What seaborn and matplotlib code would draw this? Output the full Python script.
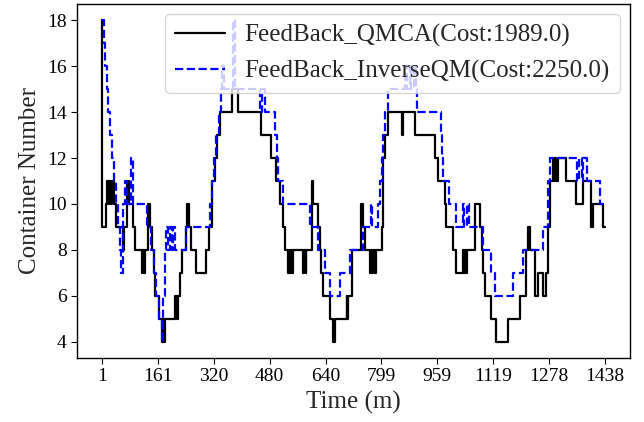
import numpy as np
import pandas as pd
import matplotlib
matplotlib.use("Agg")
import matplotlib.pyplot as plt
import seaborn as sns

# step change points (time, container number), drawn with steps-post
qmca_steps = [
    (1, 18), (2, 9), (12, 10), (15, 11), (20, 10), (22, 11), (27, 10), (29, 11),
    (34, 10), (40, 9), (60, 8), (63, 9), (71, 11), (78, 10), (90, 9), (95, 8),
    (116, 7), (118, 8), (120, 7), (123, 8), (133, 10), (139, 9), (144, 8),
    (150, 7), (153, 6), (163, 5), (171, 4), (175, 5), (177, 4), (180, 5),
    (209, 6), (214, 5), (217, 6), (223, 7), (228, 8), (240, 9), (244, 10),
    (250, 9), (256, 8), (269, 7), (297, 8), (307, 9), (314, 11), (323, 12),
    (328, 13), (338, 14), (371, 15), (390, 14), (456, 13), (485, 12),
    (499, 11), (509, 10), (518, 9), (523, 8), (533, 7), (535, 8), (538, 7),
    (541, 8), (544, 7), (547, 8), (576, 7), (578, 8), (583, 7), (585, 8),
    (600, 11), (604, 10), (618, 9), (624, 8), (628, 7), (633, 6), (652, 5),
    (661, 4), (667, 5), (700, 6), (702, 5), (705, 6), (714, 8), (742, 10),
    (748, 9), (752, 8), (766, 7), (770, 8), (773, 7), (776, 8), (780, 7),
    (785, 8), (800, 9), (805, 12), (809, 13), (818, 14), (857, 13), (860, 14),
    (895, 13), (952, 12), (962, 11), (981, 10), (985, 9), (1004, 8),
    (1014, 7), (1033, 8), (1035, 7), (1038, 8), (1040, 7), (1043, 8),
    (1066, 10), (1081, 9), (1086, 8), (1090, 7), (1095, 6), (1114, 5),
    (1128, 4), (1162, 5), (1195, 6), (1214, 8), (1219, 9), (1224, 8),
    (1238, 7), (1240, 6), (1247, 7), (1262, 6), (1270, 7), (1276, 9),
    (1281, 11), (1290, 12), (1292, 11), (1295, 12), (1300, 11), (1305, 12),
    (1328, 11), (1357, 10), (1376, 11), (1400, 9), (1405, 10), (1433, 9),
    (1438, 9),
]

inverse_steps = [
    (1, 18), (5, 17), (9, 16), (14, 15), (18, 14), (23, 13), (30, 12),
    (35, 11), (40, 10), (45, 9), (52, 8), (56, 7), (62, 10), (66, 11),
    (71, 10), (83, 12), (89, 10), (128, 9), (142, 8), (149, 7), (156, 6),
    (164, 5), (171, 4), (176, 6), (180, 8), (185, 9), (190, 8), (195, 9),
    (200, 8), (205, 9), (210, 8), (242, 9), (309, 10), (314, 11), (320, 12),
    (326, 13), (335, 14), (342, 15), (345, 16), (350, 15), (376, 18),
    (382, 15), (452, 14), (458, 15), (466, 14), (495, 13), (500, 12),
    (505, 11), (518, 10), (595, 9), (619, 8), (638, 7), (652, 6), (681, 7),
    (709, 8), (747, 9), (770, 10), (774, 9), (790, 10), (795, 11), (800, 12),
    (805, 13), (810, 14), (818, 15), (868, 16), (872, 15), (880, 16),
    (884, 15), (893, 16), (897, 15), (900, 14), (971, 13), (974, 12),
    (977, 11), (993, 10), (1014, 9), (1033, 10), (1037, 9), (1045, 10),
    (1050, 9), (1090, 8), (1114, 7), (1124, 6), (1176, 7), (1205, 8),
    (1262, 9), (1276, 11), (1281, 12), (1360, 11), (1364, 12), (1372, 11),
    (1376, 12), (1386, 11), (1424, 10), (1438, 10),
]

series_labels = ["FeedBack_QMCA(Cost:1989.0)", "FeedBack_InverseQM(Cost:2250.0)"]
tick_labels = ["1", "161", "320", "480", "640", "799", "959", "1119", "1278", "1438"]

frames = []
for lab, steps in zip(series_labels, [qmca_steps, inverse_steps]):
    xs, ys = zip(*steps)
    frames.append(pd.DataFrame({"Time": xs, "Containers": ys, "Method": lab}))
df = pd.concat(frames, ignore_index=True)

sns.set_style("ticks")
plt.rcParams["font.family"] = ["Liberation Serif", "DejaVu Serif"]
plt.rcParams["mathtext.fontset"] = "stix"

fig, ax = plt.subplots(figsize=(6.44, 4.22), dpi=100)
fig.subplots_adjust(left=0.1196, right=0.978, top=0.9905, bottom=0.1517)

sns.lineplot(data=df, x="Time", y="Containers", hue="Method", style="Method",
             palette=["black", "blue"], dashes=[(None, None), (4, 2)],
             estimator=None, drawstyle="steps-post", linewidth=1.6, ax=ax)
ax.get_lines()[0].set_linestyle("-")
ax.get_lines()[1].set_linestyle("--")

ax.set_xticks(np.linspace(1, 1438, 10))
ax.set_xticklabels(tick_labels)
ax.set_yticks([4, 6, 8, 10, 12, 14, 16, 18])
ax.tick_params(labelsize=14, colors="black", direction="out", length=4)
for s in ax.spines.values():
    s.set_color("black")
    s.set_linewidth(1.0)
ax.set_xlabel("Time (m)", fontsize=18)
ax.set_ylabel("Container Number", fontsize=18)

leg = ax.legend(loc="upper right", fontsize=18, framealpha=0.8,
                handlelength=2.0, labelspacing=0.5, borderpad=0.4,
                borderaxespad=0.4)
for h in leg.get_lines():
    h.set_linewidth(1.6)
leg.get_lines()[0].set_linestyle("-")
leg.get_lines()[1].set_linestyle("--")

fig.savefig("out.png", dpi=100)
